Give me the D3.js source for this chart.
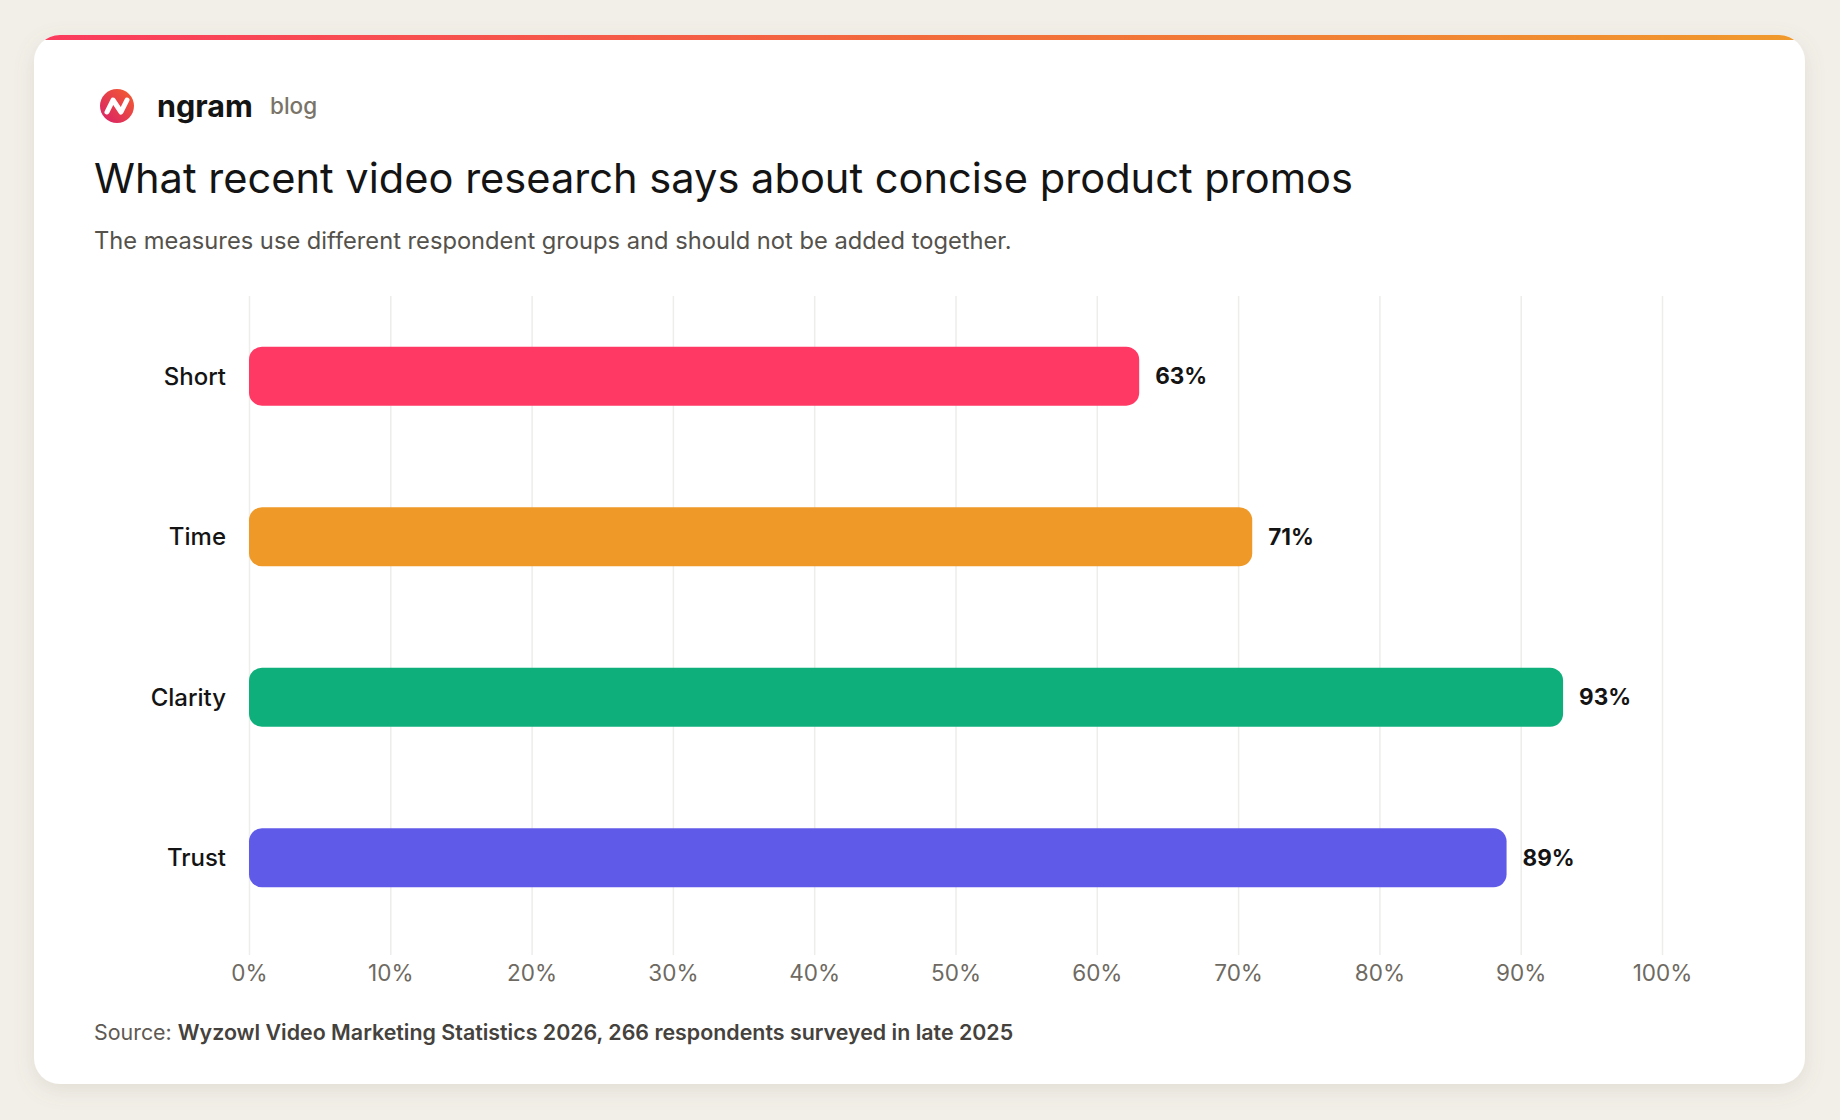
<!DOCTYPE html>
<html>
<head>
<meta charset="utf-8">
<script src="https://cdn.jsdelivr.net/npm/d3@7"></script>
<style>
  html, body { margin: 0; padding: 0; background: #f2efe9; }
  svg { display: block; font-family: Inter, "Noto Sans", sans-serif; }
</style>
</head>
<body>
<svg id="chart"></svg>
<script>
// chart data
const categories = ['Short', 'Time', 'Clarity', 'Trust'];
const values = [63, 71, 93, 89];
const barColors = ['#ff3864', '#ef9a28', '#0faf7b', '#605ae8'];
const tickValues = [0, 10, 20, 30, 40, 50, 60, 70, 80, 90, 100];

const W = 1840, H = 1120;
const card = { x: 34, y: 35, w: 1771, h: 1049, r: 26 };
const plot = { left: 249, right: 1662, top: 296, bottom: 955 };

const svg = d3.select('#chart').attr('width', W).attr('height', H);
const defs = svg.append('defs');

// shadow under the card
const shadow = defs.append('filter').attr('id', 'shadow')
  .attr('x', '-5%').attr('y', '-5%').attr('width', '110%').attr('height', '115%');
shadow.append('feDropShadow')
  .attr('dx', 0).attr('dy', 6).attr('stdDeviation', 10)
  .attr('flood-color', '#8a7f66').attr('flood-opacity', 0.16);

const topGrad = defs.append('linearGradient').attr('id', 'top-grad')
  .attr('x1', '0%').attr('x2', '100%');
topGrad.append('stop').attr('offset', '0%').attr('stop-color', '#fb3a5e');
topGrad.append('stop').attr('offset', '50%').attr('stop-color', '#f26a3c');
topGrad.append('stop').attr('offset', '100%').attr('stop-color', '#f09a2c');

const logoGrad = defs.append('linearGradient').attr('id', 'logo-grad')
  .attr('x1', '0%').attr('y1', '100%').attr('x2', '100%').attr('y2', '0%');
logoGrad.append('stop').attr('offset', '0%').attr('stop-color', '#d81e6b');
logoGrad.append('stop').attr('offset', '100%').attr('stop-color', '#f4602c');

defs.append('clipPath').attr('id', 'card-clip')
  .append('rect')
  .attr('x', card.x).attr('y', card.y)
  .attr('width', card.w).attr('height', card.h)
  .attr('rx', card.r);

svg.append('rect')
  .attr('x', card.x).attr('y', card.y)
  .attr('width', card.w).attr('height', card.h)
  .attr('rx', card.r)
  .attr('fill', '#fff')
  .attr('filter', 'url(#shadow)');

svg.append('rect')
  .attr('clip-path', 'url(#card-clip)')
  .attr('x', card.x).attr('y', card.y)
  .attr('width', card.w).attr('height', 5)
  .attr('fill', 'url(#top-grad)');

// brand
const logo = svg.append('g').attr('transform', 'translate(117,106)');
logo.append('circle').attr('r', 17).attr('fill', 'url(#logo-grad)');
logo.append('path')
  .attr('d', 'M-10,6 L-4,-6 L4,6 L10,-6')
  .attr('fill', 'none')
  .attr('stroke', '#fff')
  .attr('stroke-width', 5)
  .attr('stroke-linecap', 'round')
  .attr('stroke-linejoin', 'round');

svg.append('text')
  .attr('x', 157).attr('y', 117)
  .attr('font-size', 30.5).attr('font-weight', 700)
  .attr('fill', '#141414')
  .text('ngram');

svg.append('text')
  .attr('x', 270).attr('y', 114)
  .attr('font-size', 22.5).attr('font-weight', 500)
  .attr('fill', '#7a7468')
  .text('blog');

svg.append('text')
  .attr('x', 94).attr('y', 193)
  .attr('font-size', 41.6).attr('font-weight', 400)
  .attr('fill', '#141414')
  .text('What recent video research says about concise product promos');

svg.append('text')
  .attr('x', 94).attr('y', 249)
  .attr('font-size', 23.7).attr('font-weight', 400)
  .attr('fill', '#55524c')
  .text('The measures use different respondent groups and should not be added together.');

// scales
const x = d3.scaleLinear().domain([0, 100]).range([plot.left, plot.right]);
const y = d3.scaleBand().domain(categories).range([plot.top, 938])
  .paddingInner(0.633).paddingOuter(0.316);

// grid + x axis
const xAxis = svg.append('g')
  .attr('transform', `translate(0,${plot.bottom})`)
  .call(d3.axisBottom(x).tickValues(tickValues)
    .tickSize(-(plot.bottom - plot.top))
    .tickPadding(10)
    .tickFormat(d => d + '%'));
xAxis.select('.domain').remove();
xAxis.selectAll('.tick line').attr('stroke', '#ededeb').attr('stroke-width', 1.5);
xAxis.selectAll('.tick text')
  .attr('font-size', 22.5)
  .attr('fill', '#6e6a62')
  .attr('font-family', 'Inter, sans-serif');

// bars
svg.append('g').selectAll('rect')
  .data(categories)
  .join('rect')
  .attr('x', x(0))
  .attr('y', d => y(d))
  .attr('width', (d, i) => x(values[i]) - x(0))
  .attr('height', y.bandwidth())
  .attr('rx', 13)
  .attr('fill', (d, i) => barColors[i]);

// category labels
svg.append('g').selectAll('text')
  .data(categories)
  .join('text')
  .attr('x', 226)
  .attr('y', d => y(d) + y.bandwidth() / 2)
  .attr('dy', '0.35em')
  .attr('text-anchor', 'end')
  .attr('font-size', 24).attr('font-weight', 500)
  .attr('fill', '#141414')
  .text(d => d);

// value labels
svg.append('g').selectAll('text')
  .data(categories)
  .join('text')
  .attr('x', (d, i) => x(values[i]) + 16)
  .attr('y', d => y(d) + y.bandwidth() / 2)
  .attr('dy', '0.35em')
  .attr('font-size', 22.5).attr('font-weight', 700)
  .attr('fill', '#141414')
  .text((d, i) => values[i] + '%');

// source
const src = svg.append('text')
  .attr('x', 94).attr('y', 1040)
  .attr('font-size', 21.4)
  .attr('fill', '#5e5a53');
src.append('tspan').text('Source: ');
src.append('tspan').attr('font-weight', 600).attr('fill', '#45423d')
  .text('Wyzowl Video Marketing Statistics 2026, 266 respondents surveyed in late 2025');
</script>
</body>
</html>
